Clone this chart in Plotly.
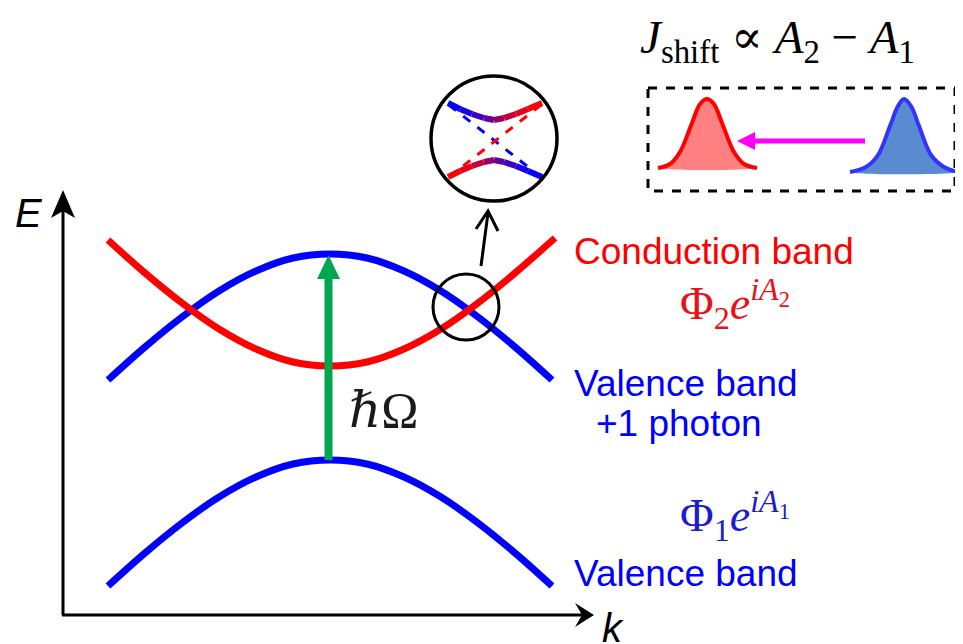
import plotly.graph_objects as go

W, H = 963, 644
PAGE_OFFSET = 8  # browser body margin; the axis ranges compensate for it

# ---- schematic band data (k horizontal, E measured downward in picture units) ----
band_k = [108, 145, 182, 219, 256, 293, 330, 367, 404, 441, 478, 515, 552]
cond_E = [240, 273, 303, 329, 349, 362, 366, 362, 349, 329, 303, 273, 240]
val_photon_E = [380, 347, 317, 291, 271, 258, 254, 258, 271, 291, 317, 347, 380]
val_E = [586, 553, 523, 497, 477, 464, 460, 464, 477, 497, 523, 553, 586]

# ---- zoomed anticrossing inset ----
inset_k = [448, 460, 472, 484, 494, 504, 516, 528, 542]
inset_upper = [103, 109, 114, 118, 120, 118, 114, 109, 103]
inset_lower = [177, 171, 166, 162, 160, 162, 166, 171, 177]
inset_diag_k = [449, 541]
inset_diag_down = [105, 177]
inset_diag_up = [177, 105]

# ---- wave packets ----
red_pk_x = [658, 670, 680, 692, 700, 707, 714, 722, 734, 744, 757]
red_pk_y = [168, 164, 152, 123, 104, 99, 104, 123, 152, 164, 168]
blue_pk_x = [850, 866, 878, 890, 898, 904, 911, 919, 931, 944, 958]
blue_pk_y = [172, 167, 155, 126, 106, 99, 106, 126, 155, 167, 172]

RED = "#ff0000"
BLUE = "#0000ff"
GREEN = "#00a651"
SANS = "Liberation Sans"
SERIF = "Liberation Serif, DejaVu Serif"

fig = go.Figure()

def line(x, y, color, width, dash=None, shape="linear"):
    fig.add_trace(go.Scatter(x=x, y=y, mode="lines", hoverinfo="skip",
                             line=dict(color=color, width=width, dash=dash, shape=shape)))

def poly(x, y, color, shape="linear"):
    fig.add_trace(go.Scatter(x=x, y=y, mode="lines", fill="toself", fillcolor=color,
                             line=dict(width=0, color=color, shape=shape), hoverinfo="skip"))

# bands
line(band_k, val_E, BLUE, 7, shape="spline")
line(band_k, val_photon_E, BLUE, 7, shape="spline")
line([k + 3 if i == len(band_k) - 1 else k for i, k in enumerate(band_k)],
     [e - 2 if i == len(band_k) - 1 else e for i, e in enumerate(cond_E)], RED, 7, shape="spline")

# photon arrow
line([328.5, 328.5], [460, 276], GREEN, 8)
poly([317, 340, 328.5, 317], [279, 279, 255, 279], GREEN)

# axes
line([63, 63], [615, 208], "black", 3)
poly([63, 51, 63, 75, 63], [190, 218, 211, 218, 190], "black")
line([62, 584], [615, 615], "black", 3)
poly([594, 575, 582, 575, 594], [615, 603, 615, 627, 615], "black")

# arrow from small circle to inset
line([481, 488], [266, 213], "black", 3)
line([476, 488, 498], [229, 211, 231], "black", 3)

# inset dashed asymptotes
line(inset_diag_k, inset_diag_down, BLUE, 3, dash="dash")
line(inset_diag_k, inset_diag_up, RED, 3, dash="dash")

# inset gradient curves
def grad_curve(xs, ys, c_start, c_end):
    n = len(xs) - 1
    for i in range(n):
        t = (i + 0.5) / n
        t = t * t * (3 - 2 * t)
        r = int(c_start[0] + (c_end[0] - c_start[0]) * t)
        g = int(c_start[1] + (c_end[1] - c_start[1]) * t)
        b = int(c_start[2] + (c_end[2] - c_start[2]) * t)
        line(xs[i:i + 2], ys[i:i + 2], f"rgb({r},{g},{b})", 6)

grad_curve(inset_k, inset_upper, (0, 0, 255), (255, 0, 0))
grad_curve(inset_k, inset_lower, (255, 0, 0), (0, 0, 255))

# wave packets
poly(red_pk_x + [red_pk_x[0]], red_pk_y + [red_pk_y[0]], "#ff8080", shape="spline")
line(red_pk_x, red_pk_y, RED, 4, shape="spline")
poly(blue_pk_x + [blue_pk_x[0]], blue_pk_y + [blue_pk_y[0]], "#5a8bd0", shape="spline")
line(blue_pk_x, blue_pk_y, "#3333ff", 4, shape="spline")

# magenta shift arrow
line([865, 752], [141, 141], "#ff00ff", 5)
poly([737, 755, 755, 737], [141, 132, 150, 141], "#ff00ff")

shapes = [
    dict(type="circle", xref="x", yref="y", x0=433, x1=499, y0=274, y1=340,
         line=dict(color="black", width=3)),
    dict(type="circle", xref="x", yref="y", x0=431, x1=557, y0=76, y1=201,
         line=dict(color="black", width=3.5)),
    dict(type="rect", xref="x", yref="y", x0=648, x1=955, y0=88, y1=191,
         line=dict(color="black", width=3, dash="dash")),
]

def ann(text, x, y, size, color="black", family=SANS, xanchor="left"):
    return dict(text=text, x=x, y=y, xref="x", yref="y", showarrow=False,
                xanchor=xanchor, yanchor="middle",
                font=dict(size=size, color=color, family=family))

annotations = [
    ann("<i>E</i>", 29, 213, 40, xanchor="center"),
    ann("<i>k</i>", 613, 628, 40, xanchor="center"),
    ann("<i>ℏ</i>Ω", 383, 410, 50, color="#1a1a1a", family=SERIF, xanchor="center"),
    ann("Conduction band", 572, 251, 37, color=RED),
    ann("Valence band", 572, 383, 37, color=BLUE),
    ann("+1 photon", 594, 423, 37, color=BLUE),
    ann("Valence band", 572, 573, 37, color=BLUE),
    ann("Φ<sub>2</sub><i>e</i><sup><i>iA</i><sub>2</sub></sup>", 678, 303, 46, color="#e8101a", family=SERIF),
    ann("Φ<sub>1</sub><i>e</i><sup><i>iA</i><sub>1</sub></sup>", 678, 515, 46, color="#1c1cd0", family=SERIF),
    ann("<i>J</i><sub>shift</sub>&nbsp;∝&nbsp;<i>A</i><sub>2</sub>&nbsp;−&nbsp;<i>A</i><sub>1</sub>",
        638, 40, 47, family=SERIF),
]

fig.update_layout(
    width=W, height=H, margin=dict(l=0, r=0, t=0, b=0),
    paper_bgcolor="white", plot_bgcolor="white", showlegend=False,
    xaxis=dict(range=[PAGE_OFFSET, W + PAGE_OFFSET], visible=False, fixedrange=True),
    yaxis=dict(range=[H + PAGE_OFFSET, PAGE_OFFSET], visible=False, fixedrange=True),
    shapes=shapes, annotations=annotations,
)

fig.write_html("out.html")
